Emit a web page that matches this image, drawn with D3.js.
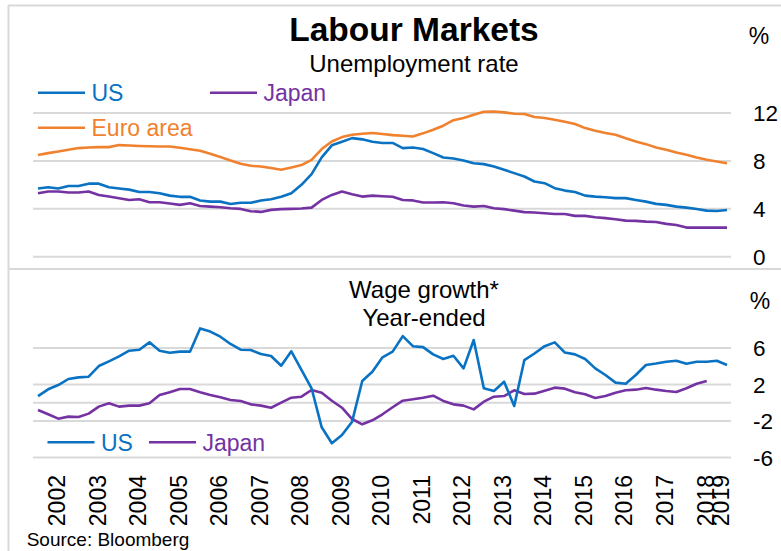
<!DOCTYPE html>
<html><head><meta charset="utf-8">
<script src="https://cdn.jsdelivr.net/npm/d3@7"></script>
<style>
body{margin:0;background:#fff;}
svg text{font-family:"Liberation Sans",Arial,sans-serif;}
</style></head>
<body>
<svg id="c" width="781" height="551"></svg>
<script>
// ---- data (quarterly, 2002Q1 onward) ----
const startYear = 2002;
const years = d3.range(2002, 2020);
const unempTicks = [0, 4, 8, 12];
const wageTicks = [-6, -2, 2, 6];
const wageGrid = [-6, -2, 0, 2, 6];

const usUnemp = [5.7,5.8,5.7,5.9,5.9,6.1,6.1,5.8,5.7,5.6,5.4,5.4,5.3,5.1,5.0,5.0,4.7,4.6,4.6,4.4,4.5,4.5,4.7,4.8,5.0,5.3,6.0,6.9,8.3,9.3,9.6,9.9,9.8,9.6,9.5,9.5,
 9.07,9.12,9.0,8.65,8.28,8.2,8.03,7.8,7.73,7.53,7.26,6.98,6.7,6.28,6.14,5.72,5.52,5.41,5.1,5.02,4.97,4.89,4.89,4.74,4.6,4.41,4.33,4.18,4.1,3.99,3.85,3.82,3.9];
const euroUnemp = [8.5,8.65,8.79,8.93,9.07,9.12,9.15,9.15,9.32,9.28,9.25,9.22,9.2,9.2,9.1,8.98,8.85,8.6,8.32,8.03,7.76,7.59,7.53,7.4,7.26,7.45,7.65,8.09,8.99,9.62,
 9.99,10.18,10.27,10.33,10.24,10.15,10.1,10.04,10.3,10.6,10.94,11.4,11.58,11.86,12.1,12.13,12.05,11.94,11.92,11.66,11.58,11.44,11.27,11.08,10.74,10.52,10.33,10.18,9.9,9.62,
 9.4,9.12,8.93,8.7,8.51,8.28,8.09,7.95,7.8];
const japanUnemp = [5.3,5.44,5.44,5.36,5.36,5.44,5.16,5.02,4.88,4.74,4.8,4.55,4.55,4.44,4.33,4.47,4.24,4.18,4.13,4.05,3.99,3.8,3.74,3.91,3.97,3.99,4.02,4.1,4.74,5.16,
 5.44,5.22,5.02,5.1,5.05,5.0,4.74,4.7,4.52,4.52,4.55,4.47,4.27,4.18,4.24,4.05,3.97,3.85,3.72,3.69,3.63,3.57,3.57,3.41,3.41,3.3,3.22,3.13,3.01,2.99,
 2.93,2.9,2.74,2.65,2.43,2.43,2.43,2.43,2.43];
const usWage = [0.73,1.47,1.94,2.6,2.78,2.85,4.02,4.54,5.08,5.7,5.81,6.62,5.7,5.48,5.6,5.6,8.15,7.8,7.24,6.44,5.81,5.78,5.34,5.12,4.06,5.64,3.6,1.58,-2.7,-4.45,
 -3.54,-2.08,2.38,3.4,4.98,5.6,7.3,6.2,6.1,5.3,4.8,5.15,3.77,6.88,1.58,1.28,2.3,-0.36,4.68,5.4,6.2,6.62,5.5,5.3,4.8,3.77,3.04,2.2,2.08,3.04,
 4.13,4.3,4.5,4.6,4.28,4.5,4.5,4.6,4.13];
const japanWage = [-0.8,-1.27,-1.75,-1.53,-1.57,-1.2,-0.43,-0.07,-0.43,-0.32,-0.32,-0.07,0.84,1.14,1.5,1.5,1.14,0.84,0.59,0.3,0.19,-0.18,-0.32,-0.55,0,0.55,0.66,1.39,1.1,0.22,
 -0.55,-1.79,-2.37,-1.93,-1.27,-0.5,0.22,0.37,0.55,0.77,0.19,-0.18,-0.32,-0.73,0.11,0.66,0.73,1.36,0.95,0.99,1.32,1.65,1.54,1.14,0.92,0.52,0.73,1.1,1.36,1.43,
 1.61,1.43,1.28,1.17,1.58,2.08,2.38];

const colUS = "#0a72c2", colEuro = "#f0822f", colJapan = "#7432a2";
const gridCol = "#d9d9d9", frameCol = "#d9d9d9";

const svg = d3.select("#c");
const pxPerYear = 689/17;
const x = d3.scaleLinear().domain([2002 - 5/pxPerYear, 2019 + 4/pxPerYear]).range([33, 731]);
const y1 = d3.scaleLinear().domain([0, 12]).range([256.7, 113]);
const y2 = d3.scaleLinear().domain([-6, 6]).range([457.4, 348]);
const tq = i => startYear + i/4;

// frame
svg.append("line").attr("x1",8.5).attr("x2",8.5).attr("y1",5).attr("y2",551).attr("stroke",frameCol).attr("stroke-width",2);
svg.append("line").attr("x1",8).attr("x2",781).attr("y1",5.5).attr("y2",5.5).attr("stroke",frameCol).attr("stroke-width",2);
svg.append("line").attr("x1",8).attr("x2",781).attr("y1",269).attr("y2",269).attr("stroke",frameCol).attr("stroke-width",2);

// gridlines
const [gx0, gx1] = x.range();
svg.append("g").selectAll("line").data(unempTicks).join("line")
  .attr("x1",gx0).attr("x2",gx1).attr("y1",d=>y1(d)).attr("y2",d=>y1(d))
  .attr("stroke",gridCol).attr("stroke-width",2);
svg.append("g").selectAll("line").data(wageGrid).join("line")
  .attr("x1",gx0).attr("x2",gx1).attr("y1",d=>y2(d)).attr("y2",d=>y2(d))
  .attr("stroke",gridCol).attr("stroke-width",2);

// right tick labels
svg.append("g").selectAll("text").data(unempTicks).join("text")
  .attr("x",753).attr("y",d=>y1(d)).attr("dy","0.36em").attr("font-size",22.5).attr("fill","#000").text(d=>d);
svg.append("g").selectAll("text").data(wageTicks).join("text")
  .attr("x",753).attr("y",d=>y2(d)).attr("dy","0.36em").attr("font-size",22.5).attr("fill","#000").text(d=>d);
svg.append("text").attr("x",759).attr("y",44).attr("text-anchor","middle").attr("font-size",23).text("%");
svg.append("text").attr("x",760).attr("y",309).attr("text-anchor","middle").attr("font-size",23).text("%");

// titles
svg.append("text").attr("x",414).attr("y",41).attr("text-anchor","middle").attr("font-size",33.5).attr("font-weight","bold").text("Labour Markets");
svg.append("text").attr("x",414).attr("y",72).attr("text-anchor","middle").attr("font-size",24).text("Unemployment rate");
svg.append("text").attr("x",424).attr("y",298).attr("text-anchor","middle").attr("font-size",24).text("Wage growth*");
svg.append("text").attr("x",424).attr("y",326).attr("text-anchor","middle").attr("font-size",24).text("Year-ended");

// lines
function drawLine(data, ys, col){
  const ln = d3.line().x((d,i)=>x(tq(i))).y(d=>ys(d));
  svg.append("path").datum(data).attr("d",ln).attr("fill","none").attr("stroke",col)
    .attr("stroke-width",2.6).attr("stroke-linejoin","round");
}
drawLine(euroUnemp, y1, colEuro);
drawLine(japanUnemp, y1, colJapan);
drawLine(usUnemp, y1, colUS);
drawLine(japanWage, y2, colJapan);
drawLine(usWage, y2, colUS);

// legends
function legend(lx, ly, label, col){
  svg.append("line").attr("x1",lx).attr("x2",lx+47).attr("y1",ly).attr("y2",ly).attr("stroke",col).attr("stroke-width",2.6);
  svg.append("text").attr("x",lx+53.5).attr("y",ly).attr("dy","0.36em").attr("font-size",23).attr("fill",col).text(label);
}
legend(38, 92.7, "US", colUS);
legend(210, 92.7, "Japan", colJapan);
legend(38, 127.7, "Euro area", colEuro);
legend(47.5, 442.3, "US", colUS);
legend(149, 442.3, "Japan", colJapan);

// x axis year labels
svg.append("g").selectAll("text").data(years).join("text")
  .attr("transform", d => `translate(${d < 2019 ? x(d + 0.5) - 1.5 : x(d) - 6},475) rotate(-90)`)
  .attr("text-anchor","end").attr("dy","0.36em").attr("font-size",23).attr("fill","#000").text(d=>d);

// source
svg.append("text").attr("x",26.7).attr("y",546).attr("font-size",19).attr("fill","#000").text("Source: Bloomberg");
</script>
</body></html>
